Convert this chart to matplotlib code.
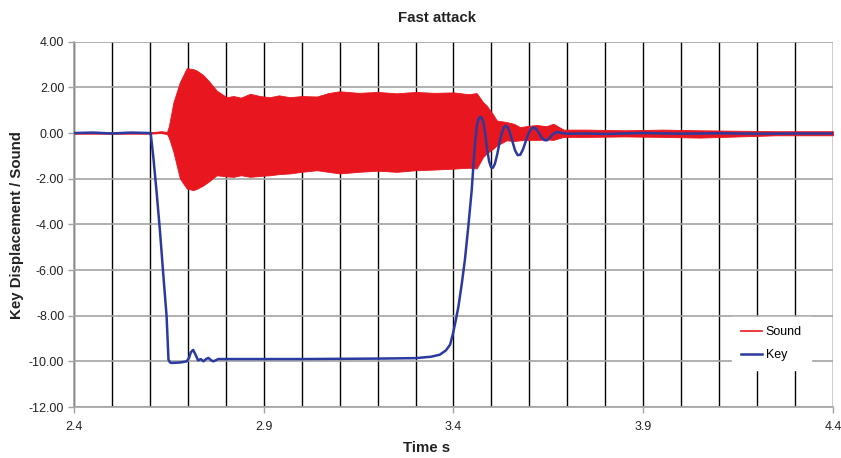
import matplotlib
matplotlib.use("Agg")
import matplotlib.pyplot as plt
from matplotlib.lines import Line2D

# ---- data ----
sound_t = [2.40, 2.60, 2.63, 2.645, 2.65, 2.662, 2.679, 2.697, 2.714, 2.723, 2.74, 2.754, 2.776,
           2.802, 2.82, 2.84, 2.864, 2.89, 2.916, 2.94, 2.969, 3.00, 3.04, 3.07, 3.10, 3.15,
           3.20, 3.25, 3.30, 3.35, 3.40, 3.44, 3.461, 3.478, 3.487, 3.505, 3.514, 3.54,
           3.56, 3.575, 3.60, 3.62, 3.645, 3.663, 3.69, 3.75, 3.85, 3.95, 4.05, 4.15, 4.25, 4.40]
sound_upper = [0.03, 0.03, 0.08, 0.05, 0.3, 1.35, 2.23, 2.84, 2.80, 2.74, 2.55, 2.30, 1.86,
               1.57, 1.62, 1.55, 1.72, 1.62, 1.57, 1.65, 1.57, 1.62, 1.60, 1.75, 1.83, 1.76,
               1.80, 1.74, 1.80, 1.76, 1.78, 1.70, 1.75, 1.35, 1.21, 0.80, 0.55, 0.48,
               0.40, 0.26, 0.32, 0.35, 0.30, 0.41, 0.15, 0.15, 0.12, 0.15, 0.12, 0.10, 0.08, 0.08]
sound_lower = [-0.03, -0.03, 0.0, -0.05, -0.2, -0.83, -1.99, -2.43, -2.50, -2.45, -2.30, -2.14, -1.85,
               -1.90, -1.92, -1.85, -1.92, -1.88, -1.85, -1.80, -1.77, -1.70, -1.63, -1.70, -1.77, -1.70,
               -1.65, -1.70, -1.63, -1.60, -1.56, -1.52, -1.55, -1.05, -0.90, -0.68, -0.55, -0.32,
               -0.35, -0.32, -0.30, -0.30, -0.28, -0.30, -0.17, -0.17, -0.15, -0.17, -0.20, -0.15, -0.10, -0.10]

key_t = [2.40, 2.45, 2.50, 2.55, 2.60, 2.602, 2.605, 2.609, 2.618, 2.627, 2.635, 2.644, 2.649,
         2.653, 2.657, 2.68, 2.697, 2.703, 2.708, 2.714, 2.72, 2.727, 2.734, 2.741, 2.748, 2.754,
         2.761, 2.767, 2.774, 2.78, 2.80, 3.00, 3.20, 3.30, 3.34, 3.364, 3.38, 3.391, 3.399,
         3.406, 3.413, 3.422, 3.43, 3.439, 3.448, 3.454, 3.458, 3.462, 3.466, 3.470, 3.474,
         3.479, 3.484, 3.489, 3.494, 3.499, 3.504, 3.509, 3.515, 3.521, 3.527, 3.532, 3.537,
         3.542, 3.548, 3.555, 3.562, 3.569, 3.576, 3.583, 3.590, 3.597, 3.604, 3.611, 3.618,
         3.625, 3.632, 3.639, 3.646, 3.653, 3.660, 3.668, 3.676, 3.685, 3.70, 3.75, 3.80,
         3.90, 4.00, 4.10, 4.20, 4.30, 4.40]
key_v = [0.0, 0.02, -0.02, 0.02, 0.0, 0.0, -0.45, -1.05, -2.65, -4.39, -6.14, -8.03, -9.93,
         -10.05, -10.07, -10.05, -10.0, -9.85, -9.6, -9.5, -9.7, -9.96, -9.9, -10.0, -9.9, -9.85,
         -9.95, -10.0, -9.95, -9.9, -9.9, -9.9, -9.88, -9.86, -9.80, -9.71, -9.52, -9.27, -8.76,
         -8.2, -7.6, -6.58, -5.56, -4.10, -2.50, -1.05, -0.25, 0.35, 0.62, 0.70, 0.68,
         0.45, -0.10, -0.75, -1.25, -1.50, -1.52, -1.35, -0.95, -0.45, -0.02, 0.22, 0.32,
         0.27, 0.05, -0.35, -0.75, -0.97, -0.95, -0.72, -0.38, -0.05, 0.17, 0.25, 0.18,
         0.00, -0.20, -0.31, -0.32, -0.22, -0.08, 0.02, 0.04, 0.0, -0.03, -0.02, -0.04,
         0.0, -0.03, -0.01, -0.03, -0.02, -0.02]

x_major = [2.4, 2.9, 3.4, 3.9, 4.4]
x_minor = [2.5, 2.6, 2.7, 2.8, 3.0, 3.1, 3.2, 3.3, 3.5, 3.6, 3.7, 3.8, 4.0, 4.1, 4.2, 4.3]
y_ticks = [4, 2, 0, -2, -4, -6, -8, -10, -12]
y_labels = ["4.00", "2.00", "0.00", "-2.00", "-4.00", "-6.00", "-8.00", "-10.00", "-12.00"]

RED = "#e8161e"
BLUE = "#2b3a9f"
GRAY = "#a3a3a3"

plt.rcParams['font.family'] = ['Liberation Sans', 'DejaVu Sans']

fig = plt.figure(figsize=(8.41, 4.58), dpi=100)
ax = fig.add_axes([74 / 841, 1 - 407 / 458, (833 - 74) / 841, (407 - 41.7) / 458])

ax.fill_between(sound_t, sound_lower, sound_upper, color=RED, linewidth=0.6, zorder=2)
ax.plot(key_t, key_v, color=BLUE, lw=1.8, zorder=3)

ax.set_xlim(2.4, 4.4)
ax.set_ylim(-12, 4)
ax.set_xticks(x_major)
ax.set_xticklabels([str(v) for v in x_major])
ax.set_xticks(x_minor, minor=True)
ax.set_yticks(y_ticks)
ax.set_yticklabels(y_labels)

ax.set_axisbelow(True)
ax.grid(axis='x', which='both', color='black', lw=1.0)
ax.grid(axis='y', which='major', color=GRAY, lw=1.2)

for s in ['top', 'right']:
    ax.spines[s].set_visible(False)
for s in ['left', 'bottom']:
    ax.spines[s].set_color(GRAY)
    ax.spines[s].set_linewidth(1.2)

ax.tick_params(axis='both', which='major', direction='out', length=4, width=1.0,
               color=GRAY, labelsize=9, labelcolor='#222222', pad=3)
ax.tick_params(axis='x', which='minor', length=0)
ax.tick_params(axis='x', which='major', pad=6)

fig.text(437 / 841, 1 - 18 / 458, "Fast attack", ha='center', va='center',
         fontsize=10.8, fontweight='bold', color='#222222')
fig.text(17 / 841, 1 - 225 / 458, "Key Displacement / Sound", ha='center', va='center',
         rotation=90, fontsize=10.8, fontweight='bold', color='#222222')
fig.text(427 / 841, 1 - 448 / 458, "Time s", ha='center', va='center',
         fontsize=10.8, fontweight='bold', color='#222222')

handles = [Line2D([], [], color=RED, lw=1.2), Line2D([], [], color=BLUE, lw=1.8)]
leg = ax.legend(handles, ["Sound", "Key"], loc='upper left',
                bbox_to_anchor=(0.867, 0.246), frameon=True, fontsize=9,
                handlelength=1.7, handletextpad=0.3, labelspacing=0.9,
                borderpad=0.7, borderaxespad=0)
leg.get_frame().set_facecolor('white')
leg.get_frame().set_edgecolor('white')
leg.get_frame().set_alpha(1)
leg.get_frame().set_boxstyle('square', pad=0)
leg.set_zorder(5)

fig.savefig("out.png", dpi=100)
